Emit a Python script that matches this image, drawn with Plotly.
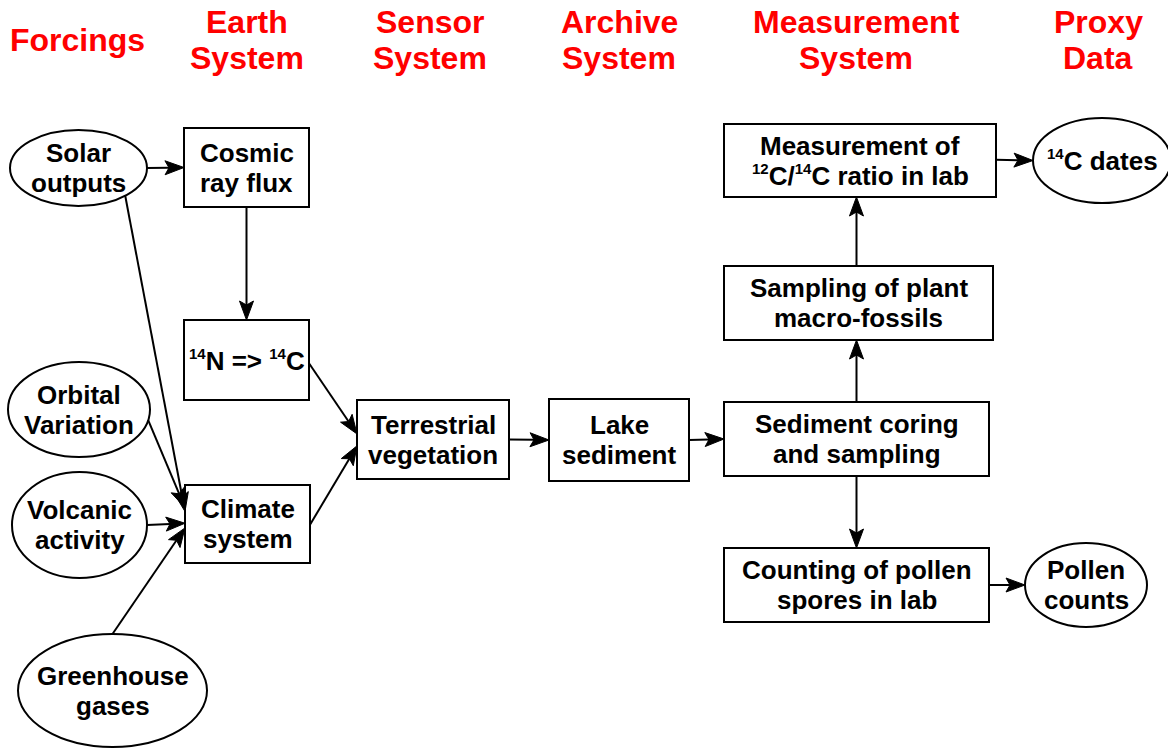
import math
import plotly.graph_objects as go

# ---------------- data (text content) ----------------
SUP = "<sup><span style='font-size:15px'>%s</span></sup>"
header_labels = ["Forcings", "Earth<br>System", "Sensor<br>System", "Archive<br>System",
                 "Measurement<br>System", "Proxy<br>Data"]

node_ids = ["solar", "orbital", "volcanic", "greenhouse", "cosmic", "n14", "climate",
            "terr", "lake", "sediment", "sampling", "measure", "counting", "dates", "pollen"]
node_labels = ["Solar<br>outputs", "Orbital<br>Variation", "Volcanic<br>activity",
               "Greenhouse<br>gases", "Cosmic<br>ray flux",
               (SUP % "14") + "N => " + (SUP % "14") + "C",
               "Climate<br>system", "Terrestrial<br>vegetation", "Lake<br>sediment",
               "Sediment coring<br>and sampling", "Sampling of plant<br>macro-fossils",
               "Measurement of<br>" + (SUP % "12") + "C/" + (SUP % "14") + "C ratio in lab",
               "Counting of pollen<br>spores in lab", (SUP % "14") + "C dates", "Pollen<br>counts"]

edges = [("solar", "cosmic"), ("cosmic", "n14"), ("solar", "climate"), ("orbital", "climate"),
         ("volcanic", "climate"), ("greenhouse", "climate"), ("n14", "terr"), ("climate", "terr"),
         ("terr", "lake"), ("lake", "sediment"), ("sediment", "sampling"),
         ("sampling", "measure"), ("sediment", "counting"), ("measure", "dates"),
         ("counting", "pollen")]

# ---------------- layout geometry (pixels, y downward) ----------------
W, H = 1168, 748
header_x = [77, 247, 430, 619, 856, 1098]
header_y = 40
header_line = 36

node_geom = {  # shape, x0, y0, x1, y1
    "solar": ("ellipse", 10, 130, 147, 206),
    "orbital": ("ellipse", 8, 362, 150, 457),
    "volcanic": ("ellipse", 12, 472, 147, 578),
    "greenhouse": ("ellipse", 18, 634, 207, 747),
    "cosmic": ("rect", 184, 128, 309, 207),
    "n14": ("rect", 184, 320, 309, 400),
    "climate": ("rect", 185, 485, 310, 563),
    "terr": ("rect", 357, 400, 509, 479),
    "lake": ("rect", 549, 399, 689, 481),
    "sediment": ("rect", 724, 402, 989, 476),
    "sampling": ("rect", 724, 266, 993, 340),
    "measure": ("rect", 724, 124, 996, 197),
    "counting": ("rect", 724, 548, 989, 622),
    "dates": ("ellipse", 1033, 118, 1171, 203),
    "pollen": ("ellipse", 1025, 543, 1147, 627),
}
node_line = 30

# anchors: ("l"/"r"/"t"/"b", fraction) for rects, ("a", angle_deg) for ellipses
edge_anchors = [
    (("a", 0), ("l", 0.5)),
    (("b", 0.5), ("t", 0.5)),
    (("a", 47), ("l", 0.34)),
    (("a", 13), ("l", 0.29)),
    (("a", 0), ("l", 0.49)),
    (("a", -90), ("l", 0.55)),
    (("r", 0.54), ("l", 0.43)),
    (("r", 0.51), ("l", 0.58)),
    (("r", 0.5), ("l", 0.5)),
    (("r", 0.5), ("l", 0.5)),
    (("t", 0.5), ("b", 0.4926)),
    (("t", 0.4926), ("b", 0.487)),
    (("b", 0.5), ("t", 0.5)),
    (("r", 0.49), ("a", 180)),
    (("r", 0.5), ("a", 180)),
]
HEAD_LEN, HEAD_HALF, HEAD_NOTCH = 19, 7, 4


def anchor(nid, spec):
    shp, x0, y0, x1, y1 = node_geom[nid]
    kind, v = spec
    if kind == "a":
        cx, cy = (x0 + x1) / 2, (y0 + y1) / 2
        rx, ry = (x1 - x0) / 2, (y1 - y0) / 2
        t = math.radians(v)
        return cx + rx * math.cos(t), cy + ry * math.sin(t)
    if kind == "l":
        return x0, y0 + v * (y1 - y0)
    if kind == "r":
        return x1, y0 + v * (y1 - y0)
    if kind == "t":
        return x0 + v * (x1 - x0), y0
    return x0 + v * (x1 - x0), y1


FONT = "Liberation Sans, Arial, sans-serif"
fig = go.Figure()
fig.add_trace(go.Scatter(x=[0, W], y=[0, H], mode="markers", marker=dict(opacity=0),
                         hoverinfo="skip", showlegend=False))

shapes = []
annotations = []

# headers
for lab, hx in zip(header_labels, header_x):
    lines = lab.split("<br>")
    n = len(lines)
    for i, ln in enumerate(lines):
        yy = header_y + (i - (n - 1) / 2) * header_line
        annotations.append(dict(x=hx, y=yy, text="<b>%s</b>" % ln, showarrow=False,
                                xanchor="center", yanchor="middle",
                                font=dict(family=FONT, size=32, color="#ff0000")))

# edges (line + notched filled head)
for (src, tgt), (sa, ta) in zip(edges, edge_anchors):
    sx, sy = anchor(src, sa)
    tx, ty = anchor(tgt, ta)
    dx, dy = tx - sx, ty - sy
    d = math.hypot(dx, dy)
    ux, uy = dx / d, dy / d
    nx, ny = -uy, ux
    bx, by = tx - HEAD_LEN * ux, ty - HEAD_LEN * uy
    mx, my = tx - (HEAD_LEN - HEAD_NOTCH) * ux, ty - (HEAD_LEN - HEAD_NOTCH) * uy
    shapes.append(dict(type="line", x0=sx, y0=sy, x1=mx, y1=my, xref="x", yref="y",
                       line=dict(color="black", width=2)))
    path = "M%.2f,%.2f L%.2f,%.2f L%.2f,%.2f L%.2f,%.2f Z" % (
        tx, ty, bx + HEAD_HALF * nx, by + HEAD_HALF * ny, mx, my,
        bx - HEAD_HALF * nx, by - HEAD_HALF * ny)
    shapes.append(dict(type="path", path=path, xref="x", yref="y", fillcolor="black",
                       line=dict(color="black", width=1)))

# nodes
for nid, lab in zip(node_ids, node_labels):
    shp, x0, y0, x1, y1 = node_geom[nid]
    shapes.append(dict(type="circle" if shp == "ellipse" else "rect",
                       x0=x0, y0=y0, x1=x1, y1=y1, xref="x", yref="y",
                       line=dict(color="black", width=2)))
    cx, cy = (x0 + x1) / 2, (y0 + y1) / 2
    lines = lab.split("<br>")
    n = len(lines)
    for i, ln in enumerate(lines):
        yy = cy + (i - (n - 1) / 2) * node_line
        annotations.append(dict(x=cx, y=yy, text="<b>%s</b>" % ln, showarrow=False,
                                xanchor="center", yanchor="middle",
                                font=dict(family=FONT, size=26, color="black")))

fig.update_layout(
    width=W, height=H, margin=dict(l=0, r=0, t=0, b=0),
    paper_bgcolor="white", plot_bgcolor="white",
    xaxis=dict(range=[0, W], visible=False, fixedrange=True),
    yaxis=dict(range=[H, 0], visible=False, fixedrange=True),
    shapes=shapes, annotations=annotations, showlegend=False,
)
fig.write_html("out.html", config={"displayModeBar": False},
               post_script="document.body.style.margin='0';document.body.style.overflow='hidden';")
